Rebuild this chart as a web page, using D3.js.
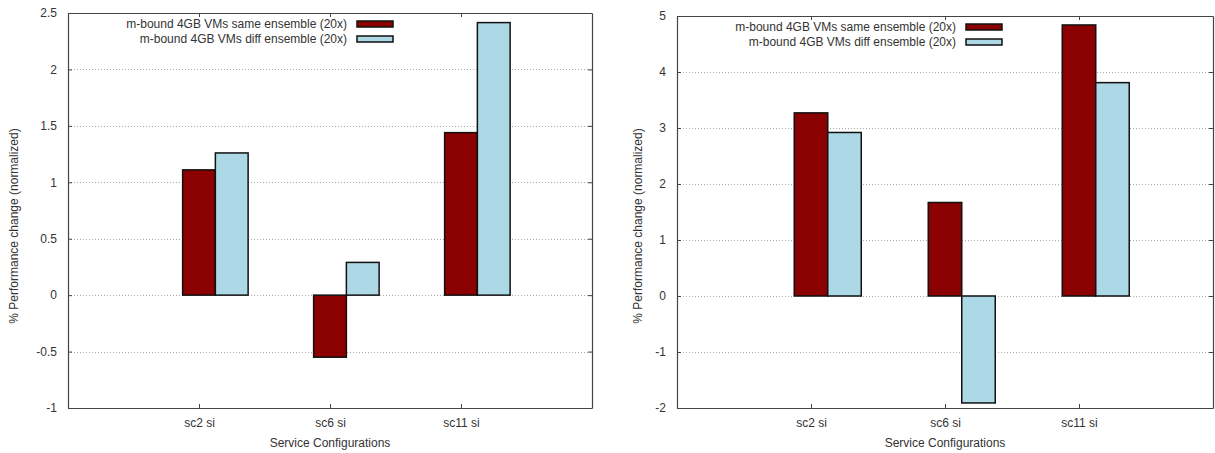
<!DOCTYPE html>
<html>
<head>
<meta charset="utf-8">
<script src="https://cdn.jsdelivr.net/npm/d3@7"></script>
<style>
  body { margin: 0; background: #fff; }
  svg text { font-family: "Liberation Sans", Arial, sans-serif; font-size: 12px; fill: #333; }
  .axis path { stroke: #444; }
  .axis line { stroke: #444; }
</style>
</head>
<body>
<script>
// categories and series
var categories = ["sc2 si", "sc6 si", "sc11 si"];
var seriesNames = ["m-bound 4GB VMs same ensemble (20x)", "m-bound 4GB VMs diff ensemble (20x)"];
var seriesColors = ["#8b0000", "#add8e6"];

// left panel values
var leftSame = [1.11, -0.55, 1.44];
var leftDiff = [1.26, 0.29, 2.415];
var leftTicks = [-1, -0.5, 0, 0.5, 1, 1.5, 2, 2.5];

// right panel values
var rightSame = [3.27, 1.67, 4.84];
var rightDiff = [2.92, -1.91, 3.81];
var rightTicks = [-2, -1, 0, 1, 2, 3, 4, 5];

var w = 1215, h = 453;
var svg = d3.select("body").append("svg").attr("width", w).attr("height", h);

function drawPanel(p) {
    var g = svg.append("g");
    var xScale = d3.scaleLinear().domain([0, 4]).range([p.x0, p.x1]);
    var yScale = d3.scaleLinear().domain([p.ticks[0], p.ticks[p.ticks.length - 1]]).range([p.y1, p.y0]);

    // grid lines (dotted)
    g.selectAll(".grid")
        .data(p.ticks.slice(1, -1))
        .enter()
        .append("line")
        .attr("x1", p.x0).attr("x2", p.x1)
        .attr("y1", function(d) { return Math.round(yScale(d)) + 0.5; })
        .attr("y2", function(d) { return Math.round(yScale(d)) + 0.5; })
        .attr("stroke", "#aaa")
        .attr("stroke-dasharray", "1,2");

    // bars, first series centred on the tick
    var series = [p.same, p.diff];
    series.forEach(function(vals, s) {
        g.selectAll(".bar" + s)
            .data(vals)
            .enter()
            .append("rect")
            .attr("x", function(d, i) { return xScale(i + 1 - 0.125 + s * 0.25); })
            .attr("width", xScale(0.25) - xScale(0))
            .attr("y", function(d) { return yScale(Math.max(0, d)); })
            .attr("height", function(d) { return Math.abs(yScale(d) - yScale(0)); })
            .attr("fill", seriesColors[s])
            .attr("stroke", "#111")
            .attr("stroke-width", 1.5);
    });

    // axes
    var xAxis = d3.axisBottom(xScale).tickValues([1, 2, 3])
        .tickFormat(function(d) { return categories[d - 1]; })
        .tickSize(-4).tickSizeOuter(0).tickPadding(10);
    g.append("g").attr("class", "axis")
        .attr("transform", "translate(0," + p.y1 + ")")
        .call(xAxis);

    g.append("g").attr("class", "axis")
        .attr("transform", "translate(0," + p.y0 + ")")
        .call(d3.axisTop(xScale).tickValues([1, 2, 3]).tickFormat("").tickSize(-4).tickSizeOuter(0));

    var yAxis = d3.axisLeft(yScale).tickValues(p.ticks)
        .tickFormat(function(d) { return String(d); })
        .tickSize(-4).tickSizeOuter(0).tickPadding(11);
    g.append("g").attr("class", "axis")
        .attr("transform", "translate(" + p.x0 + ",0)")
        .call(yAxis);

    g.append("g").attr("class", "axis")
        .attr("transform", "translate(" + p.x1 + ",0)")
        .call(d3.axisRight(yScale).tickValues(p.ticks).tickFormat("").tickSize(-4).tickSizeOuter(0));

    g.selectAll(".axis .domain").attr("stroke-width", 1.2);
    g.selectAll(".axis text").attr("font-size", 12).attr("font-family", "Liberation Sans, Arial, sans-serif").attr("fill", "#333");

    // axis titles
    g.append("text")
        .attr("x", (p.x0 + p.x1) / 2)
        .attr("y", 447)
        .attr("text-anchor", "middle")
        .text("Service Configurations");

    g.append("text")
        .attr("transform", "translate(" + p.ylabX + ",226) rotate(-90)")
        .attr("text-anchor", "middle")
        .attr("dy", "0.35em")
        .text("% Performance change (normalized)");

    // legend
    var leg = g.selectAll(".legend")
        .data(seriesNames)
        .enter()
        .append("g")
        .attr("transform", function(d, i) { return "translate(" + (p.x0 + 279) + "," + (p.y0 + 11 + i * 15) + ")"; });
    leg.append("text")
        .attr("text-anchor", "end")
        .attr("dy", "0.35em")
        .text(function(d) { return d; });
    leg.append("rect")
        .attr("x", 10).attr("y", -3)
        .attr("width", 36).attr("height", 6)
        .attr("fill", function(d, i) { return seriesColors[i]; })
        .attr("stroke", "#111")
        .attr("stroke-width", 1.5);
}

drawPanel({ x0: 68, x1: 592, y0: 13, y1: 408, ylabX: 14, ticks: leftTicks, same: leftSame, diff: leftDiff });
drawPanel({ x0: 677, x1: 1213, y0: 16, y1: 408, ylabX: 638, ticks: rightTicks, same: rightSame, diff: rightDiff });
</script>
</body>
</html>
